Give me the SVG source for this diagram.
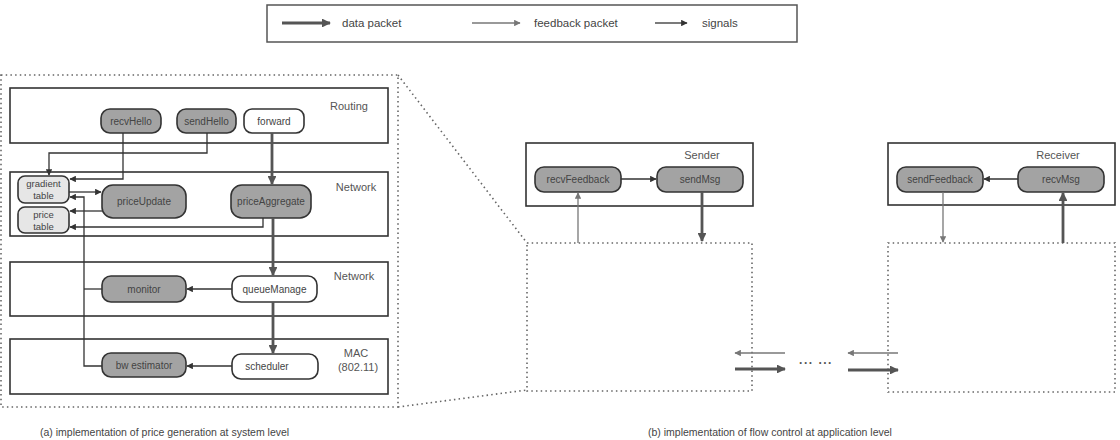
<svg xmlns="http://www.w3.org/2000/svg" width="1120" height="440" viewBox="0 0 1120 440">
<defs>
<style>
text{font-family:"Liberation Sans",Arial,sans-serif;fill:#444}
.lay{fill:#fff;stroke:#333;stroke-width:1.6}
.gn{fill:#a3a3a3;stroke:#333;stroke-width:1.6}
.wn{fill:#fff;stroke:#333;stroke-width:1.6}
.tb{fill:#e6e6e6;stroke:#333;stroke-width:1.6}
.nl{font-size:10px;text-anchor:middle}
.tl{font-size:9.5px;text-anchor:middle}
.ll{font-size:11px;text-anchor:middle;fill:#555}
.dot{fill:none;stroke:#666;stroke-width:1.6;stroke-dasharray:1.5 3.2}
.data{fill:none;stroke:#555;stroke-width:2.8;marker-end:url(#ad)}
.fb{fill:none;stroke:#777;stroke-width:1.3;marker-end:url(#af)}
.sig{fill:none;stroke:#333;stroke-width:1.3;marker-end:url(#as)}
.sig0{fill:none;stroke:#333;stroke-width:1.3}
</style>
<marker id="ad" viewBox="0 0 10 10" refX="9" refY="5" markerWidth="3.2" markerHeight="3.2" orient="auto" markerUnits="strokeWidth"><path d="M0,0 L10,5 L0,10 z" fill="#555"/></marker>
<marker id="af" viewBox="0 0 10 10" refX="9" refY="5" markerWidth="5" markerHeight="5" orient="auto" markerUnits="strokeWidth"><path d="M0,0 L10,5 L0,10 z" fill="#777"/></marker>
<marker id="as" viewBox="0 0 10 10" refX="9" refY="5" markerWidth="5" markerHeight="5" orient="auto" markerUnits="strokeWidth"><path d="M0,0 L10,5 L0,10 z" fill="#333"/></marker>
</defs>
<rect width="1120" height="440" fill="#fff"/>

<g id="legend">
<rect x="267" y="5" width="530" height="37" fill="#fff" stroke="#555" stroke-width="1.5"/>
<line x1="282" y1="23" x2="330" y2="23" class="data"/>
<text x="342" y="27" style="font-size:11.5px">data packet</text>
<line x1="472" y1="23" x2="520" y2="23" class="fb"/>
<text x="534" y="27" style="font-size:11.5px">feedback packet</text>
<line x1="655" y1="23" x2="687" y2="23" class="sig"/>
<text x="702" y="27" style="font-size:11.5px">signals</text>
</g>

<g id="zoom-outline">
<rect x="1" y="75" width="397" height="332" class="dot"/>
<line x1="398" y1="75" x2="527" y2="243" class="dot"/>
<line x1="398" y1="407" x2="527" y2="390" class="dot"/>
</g>

<g id="layer-routing">
<rect x="10" y="88" width="378" height="55" class="lay"/>
<text x="349" y="110" class="ll">Routing</text>
</g>
<g id="layer-network1">
<rect x="10" y="172" width="378" height="64" class="lay"/>
<text x="356" y="191" class="ll">Network</text>
</g>
<g id="layer-network2">
<rect x="10" y="262" width="378" height="54" class="lay"/>
<text x="354" y="280" class="ll">Network</text>
</g>
<g id="layer-mac">
<rect x="10" y="339" width="378" height="55" class="lay"/>
<text x="356" y="357" class="ll">MAC</text>
<text x="358" y="371" class="ll">(802.11)</text>
</g>

<g id="recvHello"><rect x="101" y="109" width="60" height="24" rx="9" class="gn"/><text x="131" y="124.5" class="nl">recvHello</text></g>
<g id="sendHello"><rect x="177" y="109" width="59" height="24" rx="9" class="gn"/><text x="206.5" y="124.5" class="nl">sendHello</text></g>
<g id="forward"><rect x="244" y="109" width="60" height="24" rx="8" class="wn"/><text x="274" y="124.5" class="nl">forward</text></g>
<g id="gradientTable"><rect x="18" y="176" width="51" height="27" rx="7" class="tb"/><text x="43.5" y="187" class="tl">gradient</text><text x="43.5" y="199" class="tl">table</text></g>
<g id="priceTable"><rect x="18" y="207" width="51" height="26" rx="7" class="tb"/><text x="43.5" y="218" class="tl">price</text><text x="43.5" y="230" class="tl">table</text></g>
<g id="priceUpdate"><rect x="102" y="185" width="84" height="33" rx="11" class="gn"/><text x="144" y="205" class="nl">priceUpdate</text></g>
<g id="priceAggregate"><rect x="231" y="185" width="80" height="33" rx="11" class="gn"/><text x="271" y="205" class="nl">priceAggregate</text></g>
<g id="monitor"><rect x="102" y="276" width="84" height="26" rx="9" class="gn"/><text x="144" y="292.5" class="nl">monitor</text></g>
<g id="queueManage"><rect x="232" y="276" width="85" height="26" rx="9" class="wn"/><text x="274.5" y="292.5" class="nl">queueManage</text></g>
<g id="bwEstimator"><rect x="102" y="353" width="84" height="24" rx="9" class="gn"/><text x="144" y="368.5" class="nl">bw estimator</text></g>
<g id="scheduler"><rect x="232" y="354" width="86" height="25" rx="9" class="wn"/><text x="267" y="370" class="nl">scheduler</text></g>

<g id="sender">
<rect x="526" y="143" width="227" height="63" class="lay"/>
<text x="702" y="159" class="ll">Sender</text>
</g>
<g id="recvFeedback"><rect x="535" y="167" width="86" height="25" rx="9" class="gn"/><text x="578" y="183" class="nl">recvFeedback</text></g>
<g id="sendMsg"><rect x="657" y="167" width="86" height="25" rx="9" class="gn"/><text x="700" y="183" class="nl">sendMsg</text></g>
<g id="senderLower"><rect x="527" y="243" width="225" height="148" class="dot"/></g>

<g id="receiver">
<rect x="888" y="143" width="227" height="62" class="lay"/>
<text x="1058" y="159" class="ll">Receiver</text>
</g>
<g id="sendFeedback"><rect x="897" y="167" width="86" height="25" rx="9" class="gn"/><text x="940" y="183" class="nl">sendFeedback</text></g>
<g id="recvMsg"><rect x="1018" y="167" width="86" height="25" rx="9" class="gn"/><text x="1061" y="183" class="nl">recvMsg</text></g>
<g id="receiverLower"><rect x="888" y="243" width="227" height="149" class="dot"/></g>

<g id="connectors">
<line x1="272" y1="133" x2="272" y2="184" class="data"/>
<line x1="273" y1="218" x2="273" y2="275" class="data"/>
<line x1="273" y1="302" x2="273" y2="353" class="data"/>
<line x1="232" y1="289" x2="187" y2="289" class="sig"/>
<line x1="232" y1="366" x2="187" y2="366" class="sig"/>
<polyline points="102,366 84,366 84,197 70,197" class="sig"/>
<line x1="102" y1="289" x2="84" y2="289" class="sig0"/>
<polyline points="123,133 123,179 70,179" class="sig"/>
<polyline points="207,133 207,153 49,153 49,175" class="sig"/>
<line x1="69" y1="192" x2="101" y2="192" class="sig"/>
<line x1="102" y1="211" x2="70" y2="211" class="sig"/>
<polyline points="263,218 263,227 70,227" class="sig"/>

<line x1="621" y1="179" x2="656" y2="179" class="sig"/>
<line x1="702" y1="192" x2="702" y2="241" class="data"/>
<line x1="578" y1="243" x2="578" y2="193" class="fb"/>
<line x1="1018" y1="179" x2="984" y2="179" class="sig"/>
<line x1="943" y1="192" x2="943" y2="242" class="fb"/>
<line x1="1063" y1="243" x2="1063" y2="193" class="data"/>

<line x1="785" y1="353" x2="735" y2="353" class="fb"/>
<line x1="735" y1="369" x2="785" y2="369" class="data"/>
<line x1="898" y1="353" x2="848" y2="353" class="fb"/>
<line x1="848" y1="370" x2="898" y2="370" class="data"/>
</g>
<text x="816" y="364" style="font-size:12px;font-weight:bold;text-anchor:middle;fill:#555;letter-spacing:1.5px">... ...</text>

<text x="40" y="436" style="font-size:10.5px">(a) implementation of price generation at system level</text>
<text x="648" y="436" style="font-size:10.5px">(b) implementation of flow control at application level</text>
</svg>
